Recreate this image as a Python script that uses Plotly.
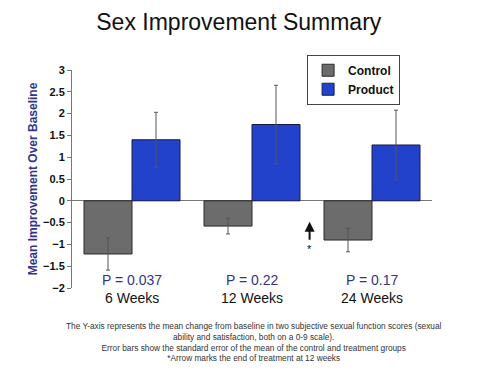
import plotly.graph_objects as go

categories = ["6 Weeks", "12 Weeks", "24 Weeks"]
p_values = ["P = 0.037", "P = 0.22", "P = 0.17"]
control = [-1.22, -0.58, -0.9]
control_se = [0.37, 0.18, 0.27]
product = [1.4, 1.75, 1.28]
product_se = [0.63, 0.9, 0.8]
footnote = [
    "The Y-axis represents the mean change from baseline in two subjective sexual function scores (sexual",
    "ability and satisfaction, both on a 0-9 scale).",
    "Error bars show the standard error of the mean of the control and treatment groups",
    "*Arrow marks the end of treatment at 12 weeks",
]
FONT = "Arial, Liberation Sans, sans-serif"

fig = go.Figure()
fig.add_bar(name="Control", x=categories, y=control,
            marker=dict(color="#6c6c6c", line=dict(color="#2a2a2a", width=1)),
            error_y=dict(type="data", array=control_se, color="#555555", thickness=1, width=2))
fig.add_bar(name="Product", x=categories, y=product,
            marker=dict(color="#2342cc", line=dict(color="#1a1a4a", width=1)),
            error_y=dict(type="data", array=product_se, color="#555555", thickness=1, width=2))

for cat, p in zip(categories, p_values):
    fig.add_annotation(x=cat, y=-1.82, text=p, showarrow=False, xref="x", yref="y",
                       font=dict(family=FONT, size=14, color="#33338a"))
    fig.add_annotation(x=cat, y=0, text=cat, showarrow=False, xref="x", yref="paper",
                       yanchor="middle", yshift=-10,
                       font=dict(family=FONT, size=14, color="#111111"))

# arrow marking end of treatment at 12 weeks
fig.add_annotation(x=1.48, y=-0.48, ax=1.48, ay=-0.93, xref="x", yref="y", axref="x", ayref="y",
                   text="", showarrow=True, arrowhead=2, arrowsize=1, arrowwidth=2, arrowcolor="#111111")
fig.add_annotation(x=1.48, y=-1.1, text="*", showarrow=False, xref="x", yref="y",
                   font=dict(family=FONT, size=11, color="#111111"))

fig.add_annotation(x=0.505, y=0, xref="paper", yref="paper", xanchor="center", yanchor="top",
                   yshift=-31, text="<br>".join(footnote), showarrow=False, align="center",
                   font=dict(family=FONT, size=8.3, color="#333333"))

fig.update_layout(
    width=472, height=366,
    margin=dict(l=64, r=48, t=62, b=86, autoexpand=False),
    paper_bgcolor="white", plot_bgcolor="white",
    title=dict(text="Sex Improvement Summary", x=0.489, xanchor="center", y=0.962, yanchor="middle",
               font=dict(family=FONT, size=23, color="#111111")),
    barmode="group", bargap=0.2, bargroupgap=0,
    showlegend=True,
    legend=dict(x=0.653, y=1.07, xanchor="left", yanchor="top",
                bordercolor="#444444", borderwidth=1, bgcolor="white",
                font=dict(family=FONT, size=12, color="#111111", weight="bold"),
                itemwidth=30, tracegroupgap=0),
    xaxis=dict(showticklabels=False, showline=False, ticks="", showgrid=False, range=[-0.5, 2.5]),
    yaxis=dict(range=[-2, 3], dtick=0.5, showgrid=False, zeroline=True, zerolinecolor="#777777",
               zerolinewidth=1, showline=True, linecolor="#777777", linewidth=1,
               ticks="outside", ticklen=4, tickcolor="#777777",
               tickfont=dict(family=FONT, size=11, color="#111111", weight="bold"),
               title=dict(text="Mean Improvement Over Baseline", standoff=2,
                          font=dict(family=FONT, size=12, color="#33338a", weight="bold"))),
)
fig.write_html("out.html")
